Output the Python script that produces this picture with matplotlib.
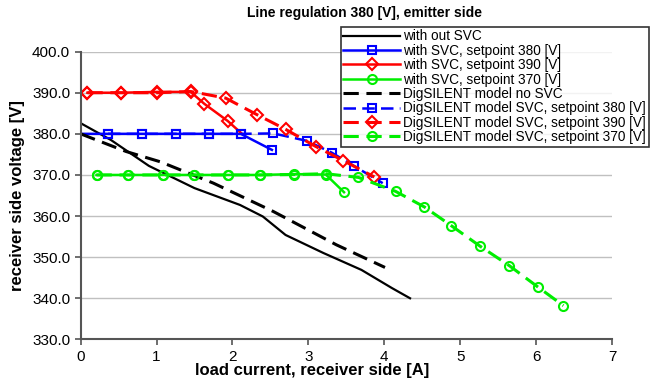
import matplotlib.pyplot as plt

plt.rcParams['font.family'] = ['Liberation Sans', 'DejaVu Sans']

# measured: without SVC
x_nosvc = [0, 0.4, 0.9, 1.5, 2.1, 2.4, 2.7, 3.2, 3.7, 4.1, 4.34]
v_nosvc = [382.6, 378.5, 372.2, 366.8, 362.7, 359.9, 355.4, 351.0, 346.9, 342.5, 340.0]

# measured: with SVC
x_svc380 = [0, 0.36, 0.81, 1.26, 1.69, 2.11, 2.52]
v_svc380 = [380, 380, 380, 380, 380, 380, 376.1]
x_svc390 = [0.09, 0.53, 1.01, 1.45, 1.63, 1.94, 2.12]
v_svc390 = [390, 390, 390.2, 390.2, 387.3, 383.1, 380.1]
x_svc370 = [0.21, 0.63, 1.09, 1.50, 1.94, 2.36, 2.81, 3.23, 3.47]
v_svc370 = [370, 370, 370, 370, 370, 370, 370.2, 370.1, 365.8]

# DigSILENT model
x_dig_no = [0, 0.6, 1.05, 1.75, 2.54, 3.37, 4.01]
v_dig_no = [380.0, 375.7, 373.2, 368.0, 361.1, 353.0, 347.5]
x_dig380 = [0.36, 0.81, 1.26, 1.69, 2.11, 2.54, 2.98, 3.31, 3.60, 3.98]
v_dig380 = [380, 380, 380, 380, 380, 380.1, 378.3, 375.4, 372.2, 368.0]
x_dig390 = [0.09, 0.53, 1.01, 1.45, 1.91, 2.33, 2.70, 3.10, 3.46, 3.87]
v_dig390 = [390, 390, 390, 390.3, 388.7, 384.6, 381.1, 376.9, 373.5, 369.5]
x_dig370 = [0.21, 0.63, 1.09, 1.50, 1.94, 2.36, 2.81, 3.23, 3.66, 4.15, 4.53, 4.88,
            5.26, 5.65, 6.02, 6.36]
v_dig370 = [370, 370, 370, 370, 370, 370, 370.1, 370.3, 369.4, 366.0, 362.2, 357.7,
            352.7, 347.9, 342.8, 338.2]

fig = plt.figure(figsize=(6.5, 3.91), dpi=100)
ax = fig.add_axes([0.124, 0.132, 0.8175, 0.736])

mk = dict(markersize=6.5, markerfacecolor='none', markeredgewidth=1.5)
mkd = dict(markersize=6, markerfacecolor='none', markeredgewidth=1.5)
dash = (0, (5, 2.5))

ax.plot(x_nosvc, v_nosvc, color='black', lw=1.6, label='with out SVC')
ax.plot(x_svc380, v_svc380, color='#0000ff', lw=1.8, marker='s', markevery=range(1, 7),
        label='with SVC, setpoint 380 [V]', **mkd)
ax.plot(x_svc390, v_svc390, color='#ff0000', lw=1.8, marker='D', markevery=range(0, 6),
        label='with SVC, setpoint 390 [V]', **mkd)
ax.plot(x_svc370, v_svc370, color='#00ee00', lw=1.8, marker='o',
        label='with SVC, setpoint 370 [V]', **mk)
ax.plot(x_dig_no, v_dig_no, color='black', lw=2.2, ls=dash, label='DigSILENT model no SVC')
ax.plot(x_dig380, v_dig380, color='#0000ff', lw=1.8, ls=dash, marker='s',
        label='DigSILENT model SVC, setpoint 380 [V]', **mkd)
ax.plot(x_dig390, v_dig390, color='#ff0000', lw=2.2, ls=dash, marker='D',
        label='DigSILENT model SVC, setpoint 390 [V]', **mkd)
ax.plot(x_dig370, v_dig370, color='#00ee00', lw=2.2, ls=dash, marker='o',
        label='DigSILENT model SVC, setpoint 370 [V]', **mk)

ax.set_xlim(0, 7)
ax.set_ylim(330, 400)
ax.set_xticks(range(0, 8))
ax.set_yticks(range(330, 401, 10))
ax.set_yticklabels(['%.1f' % v for v in range(330, 401, 10)])
ax.yaxis.grid(True, color='#c0c0c0', lw=1)
ax.set_axisbelow(True)
for s in ['top', 'right']:
    ax.spines[s].set_visible(False)
for s in ['left', 'bottom']:
    ax.spines[s].set_color('#555555')
    ax.spines[s].set_linewidth(1.5)
ax.tick_params(colors='#555555', labelcolor='black', labelsize=11, width=1.2, length=4)

ax.set_xlabel('load current, receiver side [A]', fontsize=12, fontweight='bold')
ax.xaxis.set_label_coords(0.435, -0.083)
ax.set_ylabel('receiver side voltage [V]', fontsize=12, fontweight='bold', labelpad=5)
fig.suptitle('Line regulation 380 [V], emitter side', x=0.56, y=0.985, fontsize=10,
             fontweight='bold')

leg = ax.legend(loc='upper left', bbox_to_anchor=(0.524, 0.932),
                bbox_transform=fig.transFigure, fontsize=9.8, frameon=True, fancybox=False,
                edgecolor='black', handlelength=4.2, borderpad=0.2, labelspacing=0.03,
                handletextpad=0.2, borderaxespad=0)
leg.get_frame().set_linewidth(1.2)

fig.savefig('out.png', dpi=100)
